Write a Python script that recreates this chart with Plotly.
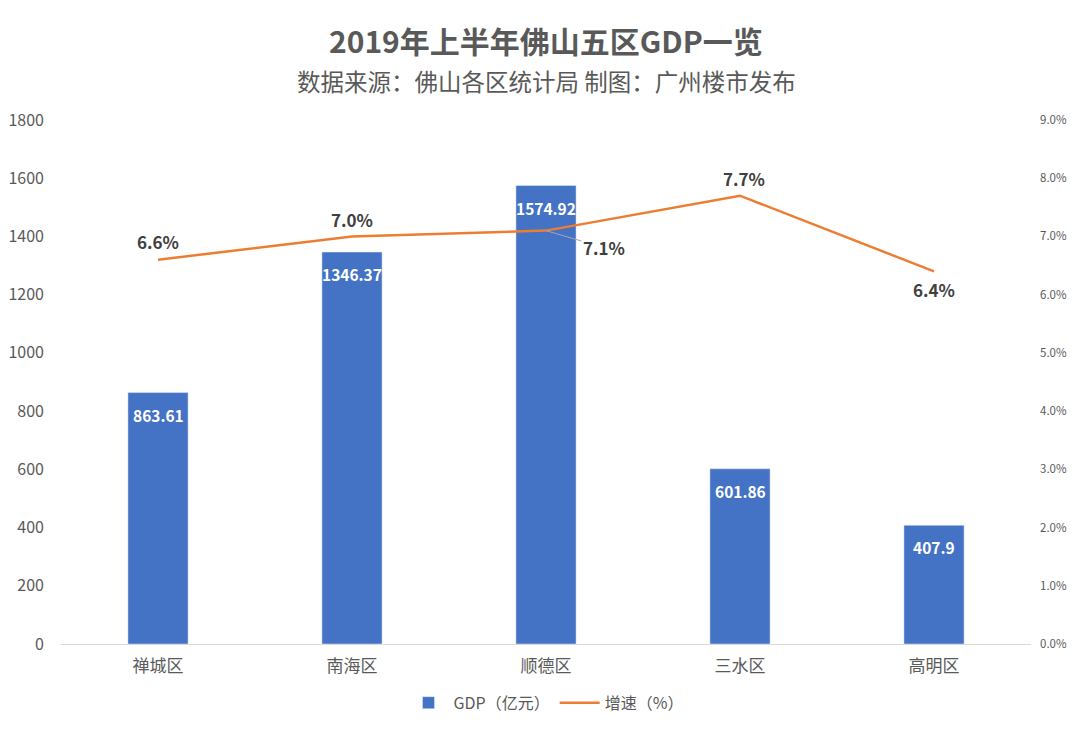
import plotly.graph_objects as go

districts = ["禅城区", "南海区", "顺德区", "三水区", "高明区"]
gdp = [863.61, 1346.37, 1574.92, 601.86, 407.9]
growth = [6.6, 7.0, 7.1, 7.7, 6.4]
growth_labels = ["6.6%", "7.0%", "7.1%", "7.7%", "6.4%"]
gdp_labels = ["863.61", "1346.37", "1574.92", "601.86", "407.9"]
left_ticks = [0, 200, 400, 600, 800, 1000, 1200, 1400, 1600, 1800]
right_ticks = [0, 1, 2, 3, 4, 5, 6, 7, 8, 9]
right_tick_text = ["0.0%", "1.0%", "2.0%", "3.0%", "4.0%", "5.0%", "6.0%", "7.0%", "8.0%", "9.0%"]

FONT = "Noto Sans CJK SC, Microsoft YaHei, sans-serif"
BLUE = "#4472C4"
ORANGE = "#ED7D31"
GRAY = "#595959"

fig = go.Figure()
fig.add_trace(go.Bar(
    x=districts, y=gdp, name="GDP（亿元）", marker_color=BLUE, width=0.31,
))
fig.add_trace(go.Scatter(
    x=districts, y=growth, name="增速（%）", yaxis="y2", mode="lines",
    line=dict(color=ORANGE, width=2.5),
))

# bar labels (inside, near the top)
for d, v, t in zip(districts, gdp, gdp_labels):
    fig.add_annotation(x=d, y=v, xref="x", yref="y", text=t, showarrow=False,
                       yshift=-22,
                       font=dict(size=15.5, color="white", family=FONT, weight="bold"))

# line labels
offsets = {0: (0, 18), 1: (0, 17), 3: (4, 17), 4: (0, -18)}
for i, (d, g, t) in enumerate(zip(districts, growth, growth_labels)):
    if i == 2:
        fig.add_annotation(x=d, y=g, xref="x", yref="y2", text=t, showarrow=True,
                           arrowhead=0, arrowwidth=1, arrowcolor="#A6A6A6",
                           ax=58, ay=17, xanchor="center", yanchor="middle",
                           font=dict(size=17, color="#404040", family=FONT, weight="bold"))
    else:
        dx, dy = offsets[i]
        fig.add_annotation(x=d, y=g, xref="x", yref="y2", text=t, showarrow=False,
                           xshift=dx, yshift=dy,
                           font=dict(size=17, color="#404040", family=FONT, weight="bold"))

# titles
fig.add_annotation(xref="paper", yref="paper", x=0.5, y=1, yshift=80, showarrow=False,
                   xanchor="center", yanchor="middle",
                   text="<b>2019年上半年佛山五区GDP一览</b>",
                   font=dict(size=30, color=GRAY, family=FONT))
fig.add_annotation(xref="paper", yref="paper", x=0.5, y=1, yshift=39, showarrow=False,
                   xanchor="center", yanchor="middle",
                   text="数据来源：佛山各区统计局 制图：广州楼市发布",
                   font=dict(size=23.5, color=GRAY, family=FONT))

fig.update_layout(
    width=1080, height=730,
    margin=dict(l=53, r=57, t=112, b=94, autoexpand=False),
    paper_bgcolor="white", plot_bgcolor="white",
    font=dict(family=FONT, color=GRAY),
    xaxis=dict(
        tickfont=dict(size=17, color=GRAY), showgrid=False,
        showline=True, linecolor="#D9D9D9", linewidth=1, ticks="",
        ticklabelstandoff=7,
    ),
    yaxis=dict(
        range=[0, 1800], tickvals=left_ticks, showgrid=False, zeroline=False,
        tickfont=dict(size=16, color=GRAY), ticks="", ticklabelstandoff=16,
    ),
    yaxis2=dict(
        range=[0, 9], tickvals=right_ticks, ticktext=right_tick_text,
        overlaying="y", side="right", showgrid=False, zeroline=False,
        tickfont=dict(size=11.5, color=GRAY), ticks="", ticklabelstandoff=8,
    ),
    legend=dict(
        orientation="h", x=0.5, xanchor="center", yref="container",
        y=0.025, yanchor="bottom",
        font=dict(size=16, color=GRAY), traceorder="normal", itemwidth=40,
    ),
    bargap=0.69,
    showlegend=True,
)
fig.write_html("out.html")
